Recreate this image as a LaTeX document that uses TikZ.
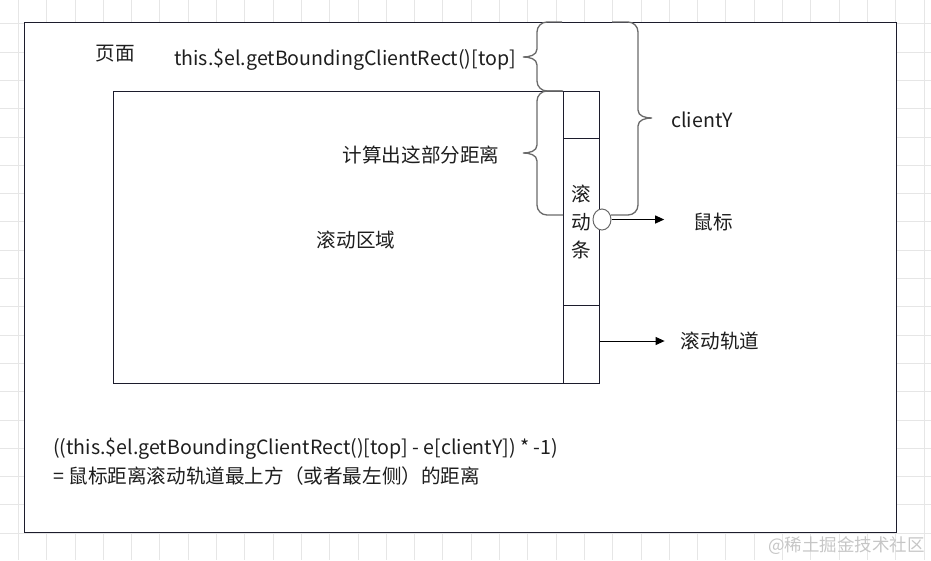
\documentclass[tikz,border=0pt]{standalone}
\usepackage{fontspec}
\setmainfont{Noto Sans CJK SC}
\usetikzlibrary{arrows.meta,shapes.geometric}
\definecolor{linecol}{HTML}{1C1C2C}
\definecolor{bracecol}{HTML}{6A6A6A}
\definecolor{txtcol}{HTML}{1E1E1E}
\definecolor{gridcol}{HTML}{E6E6E6}
\tikzset{
  frame/.style={draw=linecol, line width=1pt},
  curly/.style={draw=bracecol, line width=1.3pt},
  arr/.style={draw=black, line width=1pt, -{Triangle[length=9pt,width=8pt]}},
  lbl/.style={text=txtcol, font=\fontsize{19.6}{23}\selectfont, inner sep=0pt},
}
\begin{document}
\begin{tikzpicture}[x=1pt,y=-1pt]
\useasboundingbox (0,0) rectangle (931,560);
% background grid
\foreach \i in {0,...,32} \draw[gridcol, line width=0.8pt] (18.3+28.3*\i,0) -- (18.3+28.3*\i,560);
\foreach \j in {1,...,20} \draw[gridcol, line width=0.8pt] (0,-4.6+28.3*\j) -- (931,-4.6+28.3*\j);

% page, scroll area, track
\draw[frame, fill=white] (24,22) rectangle (896,532);
\draw[frame] (113,91) rectangle (563,383);
\node[frame, minimum width=36pt, minimum height=292pt, inner sep=0pt] (track) at (581,237) {};
\draw[frame] (563,138) -- (599,138);
\draw[frame] (563,305) -- (599,305);
\node[lbl, align=center, font=\fontsize{19.6}{28}\selectfont] (thumb) at (581,222) {滚\\动\\条};

% braces
\draw[curly] (562,22) -- (547,22) to[out=180,in=90] (537,32) -- (537,49)
  to[out=-90,in=0] (523,57) to[out=0,in=90] (537,65) -- (537,81)
  to[out=-90,in=180] (547,91) -- (562,91);
\draw[curly] (563,91) -- (547,91) to[out=180,in=90] (537,101) -- (537,145)
  to[out=-90,in=0] (523,153) to[out=0,in=90] (537,161) -- (537,205)
  to[out=-90,in=180] (547,215) -- (563,215);
\draw[curly] (612,22) -- (628,22) to[out=0,in=90] (638,32) -- (638,110)
  to[out=-90,in=180] (652,118) to[out=180,in=90] (638,126) -- (638,205)
  to[out=-90,in=0] (628,215) -- (611,215);
\node[draw=bracecol, fill=white, ellipse, line width=1pt, minimum width=18pt,
  minimum height=21pt, inner sep=0pt] (mouse) at (602,219.5) {};

% labels
\node[lbl] (pageLbl) at (115,54) {页面};
\node[lbl] (topLbl) at (345,60) {this.\$el.getBoundingClientRect()[top]};
\node[lbl] (distLbl) at (421,155) {计算出这部分距离};
\node[lbl] (areaLbl) at (356,240) {滚动区域};
\node[lbl] (clientLbl) at (702,120) {clientY};
\node[lbl] (mouseLbl) at (713,222) {鼠标};
\node[lbl] (trackLbl) at (720,341) {滚动轨道};
\node[lbl, anchor=west, align=left, font=\fontsize{19.6}{29}\selectfont] (formula) at (53,462)
  {((this.\$el.getBoundingClientRect()[top] - e[clientY]) * -1)\\= 鼠标距离滚动轨道最上方（或者最左侧）的距离};
\node[text=gray!45, font=\fontsize{17.5}{20}\selectfont, anchor=east, inner sep=0pt] (mark) at (925,546) {@稀土掘金技术社区};

% arrows
\draw[arr, shorten >=29pt] (mouse.east) -- (mouse.east -| mouseLbl.west);
\draw[arr, shorten >=16pt] (track.east |- trackLbl.west) -- (trackLbl.west);
\end{tikzpicture}
\end{document}
